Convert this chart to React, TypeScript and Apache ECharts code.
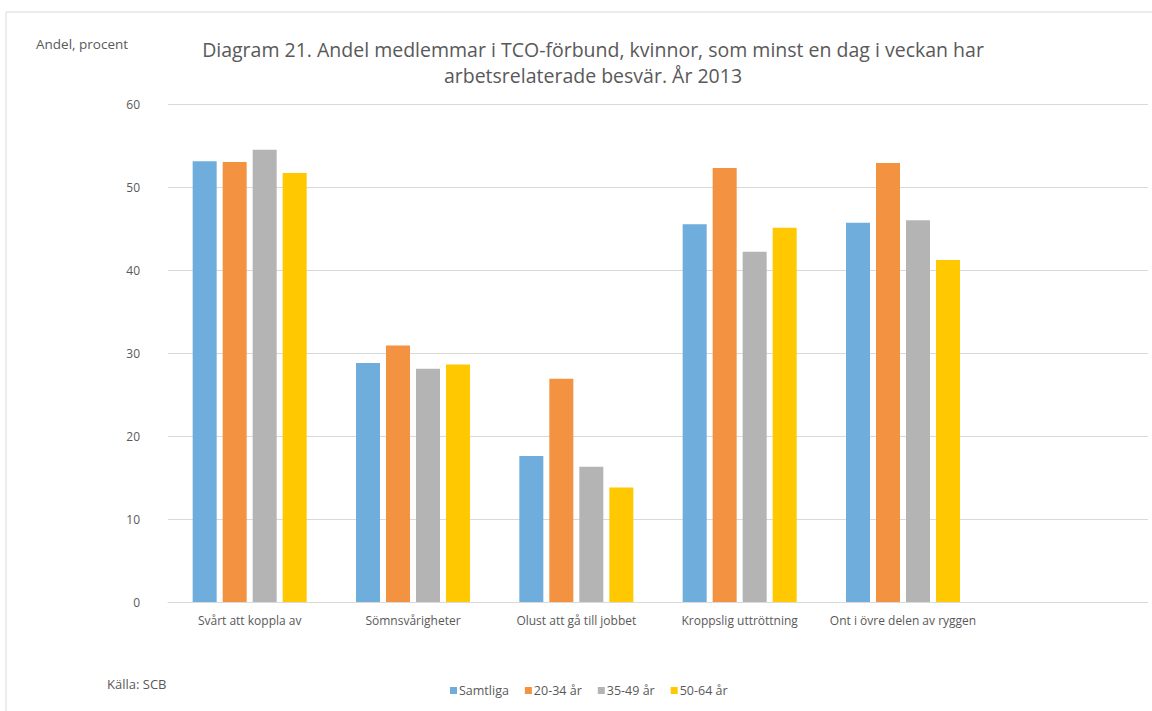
import React, { useEffect, useRef } from "react";
import * as echarts from "echarts";

const categories = [
  "Svårt att koppla av",
  "Sömnsvårigheter",
  "Olust att gå till jobbet",
  "Kroppslig uttröttning",
  "Ont i övre delen av ryggen",
  "",
];
const seriesNames = ["Samtliga", "20-34 år", "35-49 år", "50-64 år"];
const samtliga = [53.1, 28.8, 17.6, 45.5, 45.7, null];
const age2034 = [53.0, 30.9, 26.9, 52.3, 52.9, null];
const age3549 = [54.5, 28.1, 16.3, 42.2, 46.0, null];
const age5064 = [51.7, 28.6, 13.8, 45.1, 41.2, null];
const colors = ["#6eaddc", "#f39240", "#b4b4b4", "#ffc800"];
const titleText =
  "Diagram 21. Andel medlemmar i TCO-förbund, kvinnor, som minst en dag i veckan har\narbetsrelaterade besvär. År 2013";

const FONT = "'Open Sans', 'Noto Sans', sans-serif";
const TEXT = "#595959";

export default function App() {
  const ref = useRef<HTMLDivElement>(null);
  useEffect(() => {
    document.body.style.margin = "0";
    const chart = echarts.init(ref.current!, null, { renderer: "svg" });
    const data = [samtliga, age2034, age3549, age5064];
    chart.setOption({
      animation: false,
      textStyle: { fontFamily: FONT },
      title: {
        text: titleText,
        left: 588,
        top: 31,
        textAlign: "center",
        textStyle: {
          fontFamily: FONT,
          fontSize: 19.5,
          fontWeight: "normal",
          color: TEXT,
          lineHeight: 26,
        },
      },
      legend: {
        data: seriesNames,
        bottom: 9,
        left: 445,
        itemWidth: 7,
        itemHeight: 7,
        itemGap: 16,
        icon: "rect",
        textStyle: { fontFamily: FONT, fontSize: 12.5, color: TEXT, padding: [0, 0, 0, -3] },
      },
      grid: { left: 168, right: 4, top: 104, bottom: 109, containLabel: false },
      xAxis: {
        type: "category",
        data: categories,
        axisLine: { lineStyle: { color: "#d9d9d9" } },
        axisTick: { show: false },
        axisLabel: { color: TEXT, fontSize: 12, fontFamily: FONT, margin: 12, interval: 0 },
      },
      yAxis: {
        type: "value",
        min: 0,
        max: 60,
        interval: 10,
        axisLine: { show: false },
        axisTick: { show: false },
        splitLine: { lineStyle: { color: "#d9d9d9" } },
        axisLabel: { color: TEXT, fontSize: 12, fontFamily: FONT, margin: 28 },
      },
      series: seriesNames.map((name, i) => ({
        name,
        type: "bar",
        data: data[i],
        barWidth: 24,
        barGap: "25%",
        itemStyle: { color: colors[i] },
      })),
      graphic: [
        {
          type: "rect",
          shape: { x: 6, y: 12, width: 1160, height: 720 },
          style: { fill: "none", stroke: "#d9d9d9", lineWidth: 1 },
          silent: true,
        },
        {
          type: "text",
          x: 36,
          y: 37,
          style: { text: "Andel, procent", fontFamily: FONT, fontSize: 13.5, fill: TEXT },
        },
        {
          type: "text",
          x: 107,
          y: 677,
          style: { text: "Källa: SCB", fontFamily: FONT, fontSize: 13, fill: TEXT },
        },
      ],
    });
    return () => chart.dispose();
  }, []);
  return <div ref={ref} style={{ width: 1152, height: 711 }} />;
}
